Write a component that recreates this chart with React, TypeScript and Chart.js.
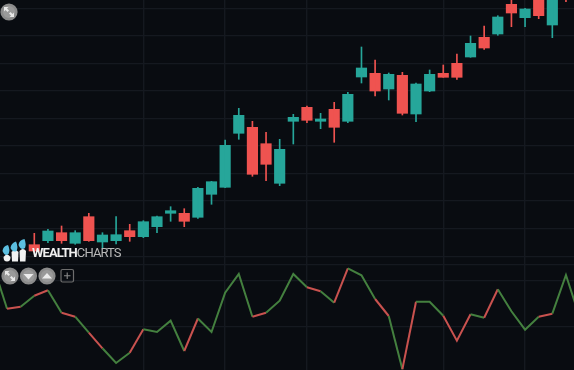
import React, { useEffect, useRef } from "react";
import { Chart, registerables } from "chart.js";

Chart.register(...registerables);

const WIDTH = 574;
const HEIGHT = 370;
const BACKGROUND = "#090c11";
const GRID = "#151920";
const TEAL = "#26a69a";
const RED = "#ef5350";
const LINE_GREEN = "#44803f";
const LINE_RED = "#c9524f";

const firstCandle = 3;
const candleColors = ["r","t","r","t","r","t","t","r","t","t","t","r","t","t","t","t","r","r","t","t","r","t","r","t","t","r","t","r","t","t","r","r","t","r","t","r","t","r","t","r"];
const bodyHigh = [20.3,34,32.3,32.3,48.3,30,30.3,34.3,43.3,48.3,54.3,51.7,76.7,83.3,119.7,149.7,137.7,121.3,115.7,147.7,157.7,146,155.7,170.7,197,191.7,190.7,189.7,181,190.7,191.7,201.7,221.7,227.7,248,260.7,256,270,275,285];
const bodyLow = [14,24.3,24.3,21.7,24.3,23,24.3,28.3,28.3,38.3,51.7,43.7,47.7,70.7,77.7,131.7,90.7,100.7,81.7,143.7,144.7,143.7,137.7,143.7,188,174,176,151.7,151,174,187.7,187.7,208,217,231,252,247.3,249.3,240,268];
const wickHigh = [31.7,35.7,39,34.3,51.7,32.3,48.3,40.7,44.3,49,58.3,56.3,77.7,83.7,125,156.7,143.7,132.7,125.7,150.7,159,151.7,162.7,172.7,218,205,192,192.7,182,195,200,211,229,239,249.3,270,256.7,272,278,285];
const wickLow = [13,22.3,21.7,20.7,23.7,16.7,21,23.7,27.3,32.3,43.7,38.3,46.7,60.7,77.3,125.7,88.7,84.3,79.3,121,142.3,136.3,122.7,142.3,182,169,165,150,143.3,173.3,187.7,185.7,207.7,215.7,229.7,238.3,238.3,246.3,227.3,263.3];

const indicatorValues = [104,61.3,63.3,74.3,79.7,57.3,53.3,37.3,21.7,7,17.3,40.7,38,49.3,19,51.5,38,77.3,96,53.3,57.3,69.3,96,82.7,78.7,67.3,101.7,94.7,71,54,0.7,68.3,68.3,54.3,29.3,55.7,52.3,80.7,58.7,40.3,53.3,56.3,95,53];
const indicatorSegments = ["g","r","g","r","g","r","g","r","g","g","r","g","g","g","r","g","g","g","g","r","g","g","g","r","g","r","g","g","r","g","r","g","g","r","r","g","r","g","g","g","r","g","g"];

const timeTicks = [11, 17, 23, 33, 39];
const priceTicks = [256.7, 229.2, 201.7, 174, 146.3, 119, 91, 64, 36.3, 8.6];
const indicatorTicks = [105, 89, 43];

const byIndex = (value: number, i: number) => i + firstCandle;

const CircleButton = ({ x, y, children }: { x: number; y: number; children: React.ReactNode }) => (
  <g transform={`translate(${x} ${y})`}>
    <circle r="8.6" fill="#8b8b8b" />
    <circle r="6" fill="#9a9a9a" />
    {children}
  </g>
);

const Expand = () => (
  <g fill="#e8e8e8">
    <path d="M-5 -5 L-0.5 -5 L-2 -3.5 L0 -1.5 L-1.5 0 L-3.5 -2 L-5 -0.5 Z" />
    <path d="M5 5 L0.5 5 L2 3.5 L0 1.5 L1.5 0 L3.5 2 L5 0.5 Z" />
  </g>
);

export default function App() {
  const ref = useRef<HTMLCanvasElement>(null);

  useEffect(() => {
    const hidden = { display: false };
    const chart = new Chart(ref.current!, {
      type: "bar",
      data: {
        datasets: [
          {
            type: "line",
            data: indicatorValues.map((y, i) => ({ x: i, y })),
            yAxisID: "indicator",
            borderWidth: 2,
            pointRadius: 0,
            tension: 0,
            borderColor: LINE_GREEN,
            segment: {
              borderColor: (ctx: any) => (indicatorSegments[ctx.p0DataIndex] === "r" ? LINE_RED : LINE_GREEN),
            },
          },
          {
            data: wickHigh.map((hi, i) => ({ x: byIndex(hi, i), y: [wickLow[i], hi] })),
            yAxisID: "price",
            barThickness: 1,
            backgroundColor: candleColors.map((c) => (c === "r" ? RED : TEAL)),
            grouped: false,
          },
          {
            data: bodyHigh.map((hi, i) => ({ x: byIndex(hi, i), y: [bodyLow[i], hi] })),
            yAxisID: "price",
            barThickness: 10.5,
            backgroundColor: candleColors.map((c) => (c === "r" ? RED : TEAL)),
            grouped: false,
          },
        ] as any,
      },
      options: {
        responsive: false,
        animation: false,
        layout: { padding: 0 },
        plugins: { legend: hidden, title: hidden, tooltip: { enabled: false } },
        scales: {
          x: {
            type: "linear",
            min: 0.484,
            max: 42.59,
            offset: false,
            ticks: { display: false },
            border: hidden,
            grid: { color: GRID, lineWidth: 1.4, drawTicks: false, offset: false },
            afterBuildTicks: (s: any) => {
              s.ticks = timeTicks.map((value) => ({ value }));
            },
          },
          indicator: {
            type: "linear",
            position: "left",
            stack: "panes",
            stackWeight: 105,
            min: 0,
            max: 105,
            ticks: { display: false },
            border: hidden,
            grid: { color: GRID, lineWidth: 1.2, drawTicks: false },
            afterBuildTicks: (s: any) => {
              s.ticks = indicatorTicks.map((value) => ({ value }));
            },
          },
          price: {
            type: "linear",
            position: "left",
            stack: "panes",
            stackWeight: 265,
            min: 0,
            max: 265,
            ticks: { display: false },
            border: hidden,
            grid: { color: GRID, lineWidth: 1.2, drawTicks: false },
            afterBuildTicks: (s: any) => {
              s.ticks = priceTicks.map((value) => ({ value }));
            },
          },
        },
      } as any,
    });
    return () => chart.destroy();
  }, []);

  return (
    <div style={{ position: "fixed", left: 0, top: 0, width: WIDTH, height: HEIGHT, background: BACKGROUND, overflow: "hidden" }}>
      <canvas ref={ref} width={WIDTH} height={HEIGHT} style={{ display: "block", position: "absolute", left: 0, top: 0 }} />
      <svg width={WIDTH} height={HEIGHT} style={{ position: "absolute", left: 0, top: 0, pointerEvents: "none" }}>
        <CircleButton x={9} y={12}><Expand /></CircleButton>
        <CircleButton x={10} y={276}><Expand /></CircleButton>
        <CircleButton x={28.5} y={276}><path d="M-5 -2 L5 -2 L0 3.5 Z" fill="#ececec" /></CircleButton>
        <CircleButton x={47} y={276}><path d="M-5 2.5 L5 2.5 L0 -3 Z" fill="#ececec" /></CircleButton>
        <rect x="61" y="269.5" width="12.5" height="12.5" rx="1.5" fill="none" stroke="#6e6e6e" strokeWidth="1.2" />
        <path d="M67.2 272.5 V279 M64 275.7 H70.5" stroke="#8a8a8a" strokeWidth="1.1" />
        <g fill="#f2f2f2">
          <path d="M3.5 257 Q7 252 10.5 257 Q10.5 261.5 7 261.5 Q3.5 261.5 3.5 257 Z" />
          <path d="M11.5 252 Q15 248 18.5 252 L18 261.5 L12 261.5 Z" />
          <path d="M19.5 251 Q23 247 26 251 L25.5 261.5 L20 261.5 Z" />
        </g>
        <g fill="#5cbfe0">
          <path d="M2.5 251 Q3 246 8 245 Q10.5 250 8.5 254 Q5 257 2.5 251 Z" />
          <path d="M10.5 248 Q11 243 16 241.5 Q18.5 247 16.5 251 Q13 253 10.5 248 Z" />
          <path d="M18.5 245 Q19 240 24.5 239 Q26.5 244 25 248 Q21 251 18.5 245 Z" />
        </g>
      </svg>
      <div
        style={{
          position: "absolute",
          left: 32,
          top: 245,
          fontFamily: "Roboto, 'Open Sans', sans-serif",
          fontSize: 13,
          lineHeight: "16px",
          letterSpacing: "-0.9px",
          whiteSpace: "nowrap",
          color: "#b9b9b9",
        }}
      >
        <span style={{ fontWeight: 700, color: "#f0f0f0" }}>WEALTH</span>
        <span style={{ fontWeight: 400 }}>CHARTS</span>
      </div>
    </div>
  );
}
